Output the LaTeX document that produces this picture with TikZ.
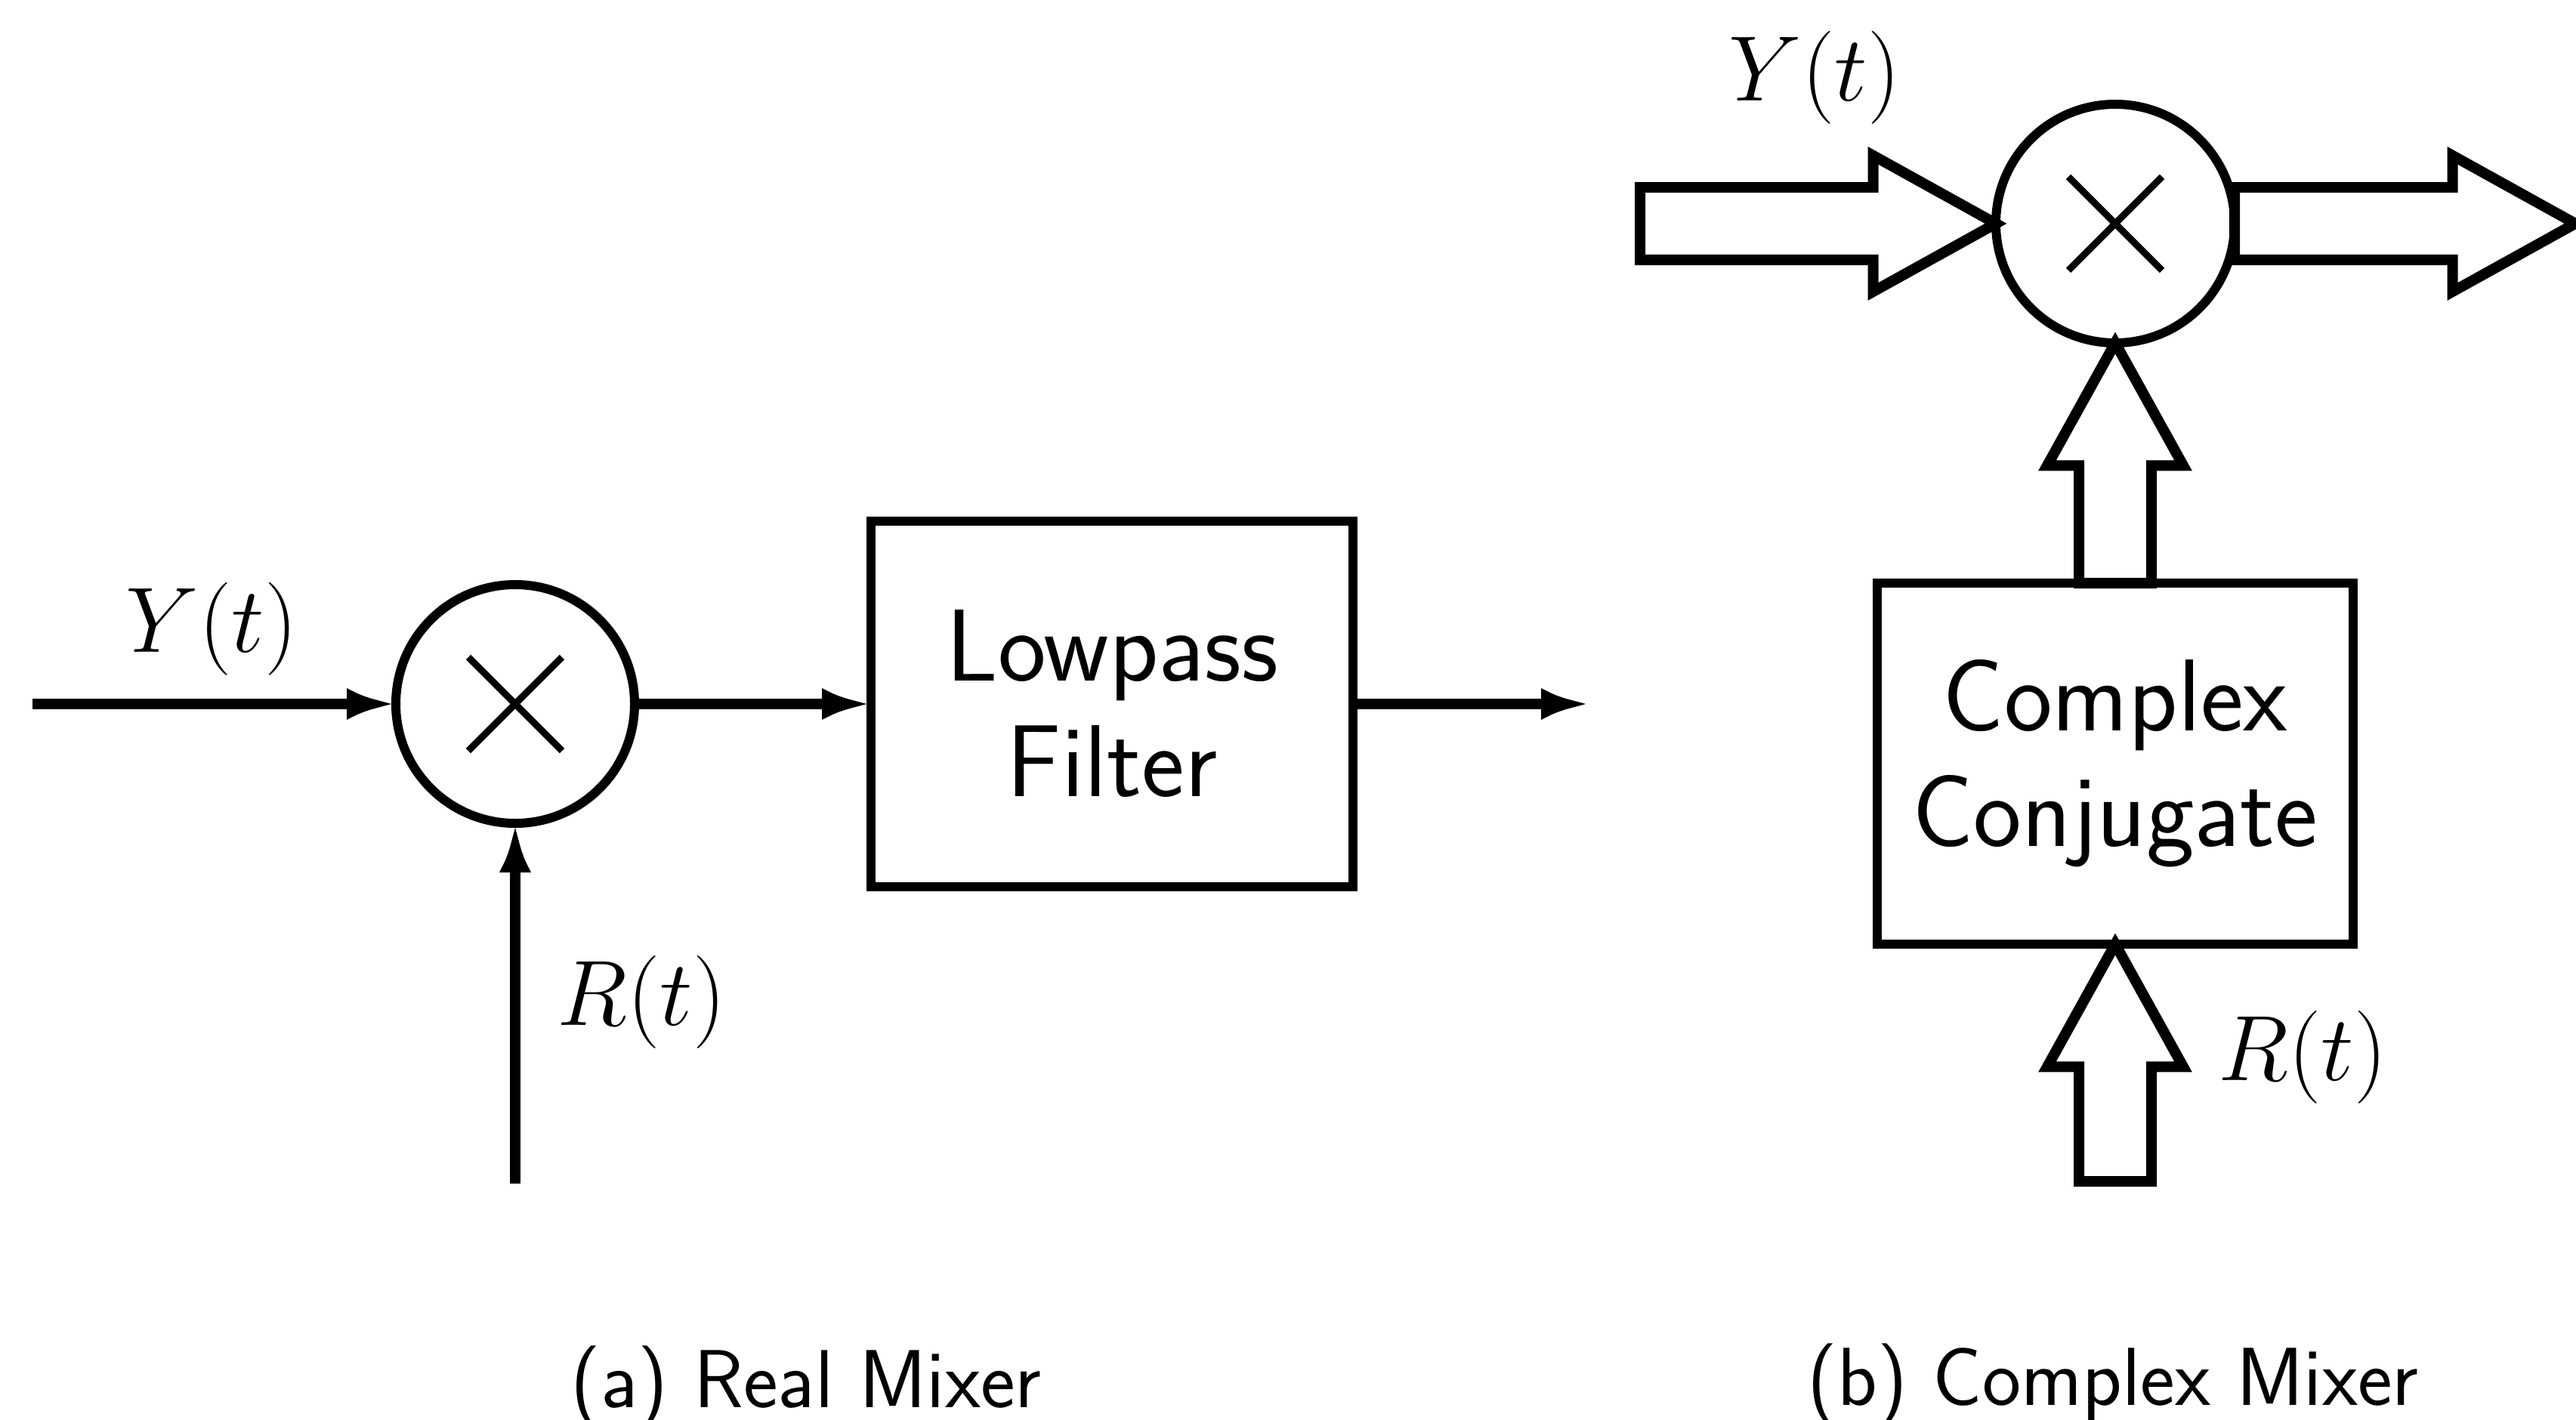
\RequirePackage{fix-cm}
\documentclass[tikz,border=0pt]{standalone}
\usepackage{tikz}
\usetikzlibrary{arrows.meta,positioning,shapes.arrows}

\begin{document}
\begin{tikzpicture}[
    mixer/.style={circle, draw=black, line width=0.12cm, minimum size=3.16cm, inner sep=0pt, outer sep=0pt,
      path picture={\draw[line width=0.09cm] (path picture bounding box.center)
        +(-0.62,-0.62) -- +(0.62,0.62) +(-0.62,0.62) -- +(0.62,-0.62);}},
    blockbox/.style={draw=black, line width=0.12cm, align=center, inner sep=0pt, outer sep=0pt,
      font={\fontsize{38.5}{43.5}\selectfont\sffamily}},
    sig/.style={font={\fontsize{35}{42}\selectfont}},
    capt/.style={anchor=base, font={\fontsize{31}{36}\selectfont\sffamily}},
    arr/.style={-{Latex[length=6.5mm,width=4.2mm]}, line width=0.14cm},
    fatarr/.style={single arrow, draw=black, line width=0.14cm, inner xsep=0pt, inner ysep=0.41cm,
      outer sep=0pt, minimum width=0pt, single arrow head extend=0.42cm, single arrow tip angle=58}
]
  \useasboundingbox (0,0) rectangle (34.10,-18.79);

  % (a) real mixer
  \node[mixer] (mixa) at (6.82,-9.32) {};
  \node[blockbox, minimum width=6.38cm, minimum height=4.84cm, right=3.13cm of mixa] (lpf) {Lowpass\\Filter};
  \coordinate (yina) at (0.43,-9.32);
  \coordinate[right=3.14cm of lpf] (outa);
  \coordinate[below=4.77cm of mixa] (rina);

  \draw[arr] (yina) -- (mixa);
  \draw[arr] (mixa) -- (lpf);
  \draw[arr] (lpf) -- (outa);
  \draw[arr] (rina) -- (mixa);

  \node[sig] (ya) at (2.80,-8.33) {$Y(t)$};
  \node[sig] (ra) at (8.49,-13.27) {$R(t)$};
  \node[capt] (capa) at (10.67,-18.63) {(a) Real Mixer};

  % (b) complex mixer
  \node[mixer] (mixb) at (28.00,-2.96) {};
  \node[blockbox, minimum width=6.30cm, minimum height=4.78cm, below=3.18cm of mixb] (conj) {Complex\\Conjugate};

  \node[fatarr, minimum height=4.71cm, anchor=tip] (yarr) at (mixb.west) {};
  \node[fatarr, minimum height=4.51cm, anchor=tail] (oarr) at (mixb.east) {};
  \node[fatarr, rotate=90, minimum height=3.18cm, anchor=tail] (carr) at (conj.north) {};
  \node[fatarr, rotate=90, minimum height=3.14cm, anchor=tip] (rarr) at (conj.south) {};

  \node[sig] (yb) at (24.02,-1.03) {$Y(t)$};
  \node[sig] (rb) at (30.48,-14.00) {$R(t)$};
  \node[capt] (capb) at (27.97,-18.60) {(b) Complex Mixer};
\end{tikzpicture}
\end{document}
